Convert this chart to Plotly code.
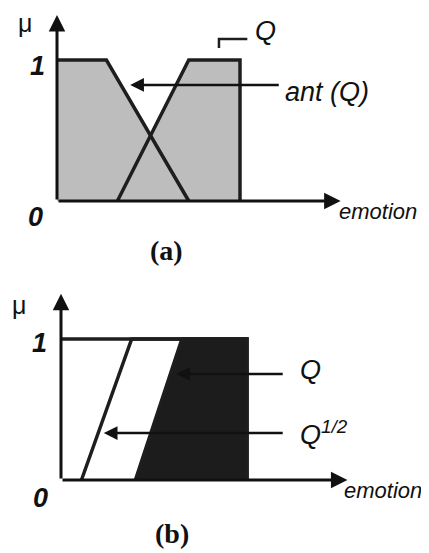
import plotly.graph_objects as go

# (a) ant(Q) and Q membership functions (emotion, mu)
ant_x = [0, 2.7, 7.2]
ant_mu = [1, 1, 0]
q_a_x = [3.3, 7.2, 10, 10]
q_a_mu = [0, 1, 1, 0]

# (b) Q and Q^(1/2)
q_b_x = [4.0, 6.5, 10, 10]
q_b_mu = [0, 1, 1, 0]
qhalf_x = [1.1, 3.8, 10, 10]
qhalf_mu = [0, 1, 1, 0]
frame_x = [0, 10]
frame_mu = [1, 1]

LINE = '#1e1e1e'
GRAY_FILL = '#bdbdbd'
DARK_FILL = '#1c1c1c'
SANS = 'Liberation Sans, Arial, sans-serif'
SERIF = 'Liberation Serif, Times New Roman, serif'

# the page body has an 8px margin, so the figure is 8px smaller than the window
W, H = 421, 545
SPLIT = 1 - 268.5 / H

fig = go.Figure()

# ---- panel (a) ----
fig.add_trace(go.Scatter(x=[0] + ant_x + [0], y=[0] + ant_mu + [0], fill='toself',
                         fillcolor=GRAY_FILL, mode='none', xaxis='x', yaxis='y'))
fig.add_trace(go.Scatter(x=q_a_x + [q_a_x[0]], y=q_a_mu + [q_a_mu[0]], fill='toself',
                         fillcolor=GRAY_FILL, mode='none', xaxis='x', yaxis='y'))
fig.add_trace(go.Scatter(x=ant_x, y=ant_mu, mode='lines',
                         line=dict(color=LINE, width=3.5), xaxis='x', yaxis='y'))
fig.add_trace(go.Scatter(x=q_a_x, y=q_a_mu, mode='lines',
                         line=dict(color=LINE, width=3.5), xaxis='x', yaxis='y'))
# bracket marking Q
fig.add_trace(go.Scatter(x=[8.85, 8.85, 10.4], y=[1.085, 1.149, 1.149], mode='lines',
                         line=dict(color=LINE, width=2.5), xaxis='x', yaxis='y'))

# ---- panel (b) ----
fig.add_trace(go.Scatter(x=q_b_x + [q_b_x[0]], y=q_b_mu + [q_b_mu[0]], fill='toself',
                         fillcolor=DARK_FILL, mode='none', xaxis='x2', yaxis='y2'))
fig.add_trace(go.Scatter(x=frame_x, y=frame_mu, mode='lines',
                         line=dict(color=LINE, width=3.5), xaxis='x2', yaxis='y2'))
fig.add_trace(go.Scatter(x=qhalf_x, y=qhalf_mu, mode='lines',
                         line=dict(color=LINE, width=3.5), xaxis='x2', yaxis='y2'))
fig.add_trace(go.Scatter(x=q_b_x, y=q_b_mu, mode='lines',
                         line=dict(color=LINE, width=3.5), xaxis='x2', yaxis='y2'))

ann = []


def arrow(xr, yr, x0, y0, x1, y1, w=3):
    ann.append(dict(xref=xr, yref=yr, axref=xr, ayref=yr, x=x1, y=y1, ax=x0, ay=y0,
                    text='', showarrow=True, arrowhead=2, arrowsize=1.1,
                    arrowwidth=w, arrowcolor='#111', standoff=0, startstandoff=0))


def label(xr, yr, x, y, text, size, family=SANS, italic=True, bold=False,
          xanchor='center'):
    t = text
    if bold:
        t = '<b>' + t + '</b>'
    if italic:
        t = '<i>' + t + '</i>'
    ann.append(dict(xref=xr, yref=yr, x=x, y=y, text=t, showarrow=False,
                    xanchor=xanchor, yanchor='middle', borderpad=0,
                    font=dict(family=family, size=size, color='#111')))


# axes as arrows
arrow('x', 'y', 0, 0, 0, 1.32)
arrow('x', 'y', 0, 0, 15.5, 0)
arrow('x2', 'y2', 0, 0, 0, 1.32)
arrow('x2', 'y2', 0, 0, 15.4, 0)

# pointers
arrow('x', 'y', 12.2, 0.823, 4.0, 0.823, w=2.5)
arrow('x2', 'y2', 12.0, 0.752, 6.2, 0.752, w=2.5)
arrow('x2', 'y2', 12.0, 0.333, 2.3, 0.333, w=2.5)

# panel (a) text
label('x', 'y', -1.75, 1.262, 'μ', 25, italic=False)
label('x', 'y', -1.09, 0.957, '1', 27, bold=True)
label('x', 'y', -1.15, -0.113, '0', 27, bold=True)
label('x', 'y', 15.35, -0.075, 'emotion', 22, xanchor='left')
label('x', 'y', 6.0, -0.348, '(a)', 28, family=SERIF, italic=False, bold=True)
label('x', 'y', 11.42, 1.206, 'Q', 27)
label('x', 'y', 12.4, 0.775, 'ant (Q)', 27, xanchor='left')

# panel (b) text
label('x2', 'y2', -2.26, 1.241, 'μ', 25, italic=False)
label('x2', 'y2', -1.18, 0.972, '1', 27, bold=True)
label('x2', 'y2', -1.08, -0.128, '0', 27, bold=True)
label('x2', 'y2', 15.15, -0.075, 'emotion', 22, xanchor='left')
label('x2', 'y2', 5.97, -0.376, '(b)', 28, family=SERIF, italic=False, bold=True)
label('x2', 'y2', 13.44, 0.78, 'Q', 27)
label('x2', 'y2', 12.8, 0.33, 'Q<sup>1/2</sup>', 27, xanchor='left')

hidden = dict(visible=False, showgrid=False, zeroline=False, fixedrange=True)

fig.update_layout(
    width=W, height=H,
    margin=dict(l=0, r=0, t=0, b=0),
    paper_bgcolor='white', plot_bgcolor='white',
    showlegend=False,
    xaxis=dict(hidden, range=[-49 / 18.3, 372 / 18.3], domain=[0, 1], anchor='y'),
    yaxis=dict(hidden, range=[-0.5355, 1.3688], domain=[SPLIT, 1], anchor='x'),
    xaxis2=dict(hidden, range=[-53 / 18.6, 368 / 18.6], domain=[0, 1], anchor='y2'),
    yaxis2=dict(hidden, range=[-0.5177, 1.443], domain=[0, SPLIT], anchor='x2'),
    annotations=ann,
)

fig.write_html("out.html")
